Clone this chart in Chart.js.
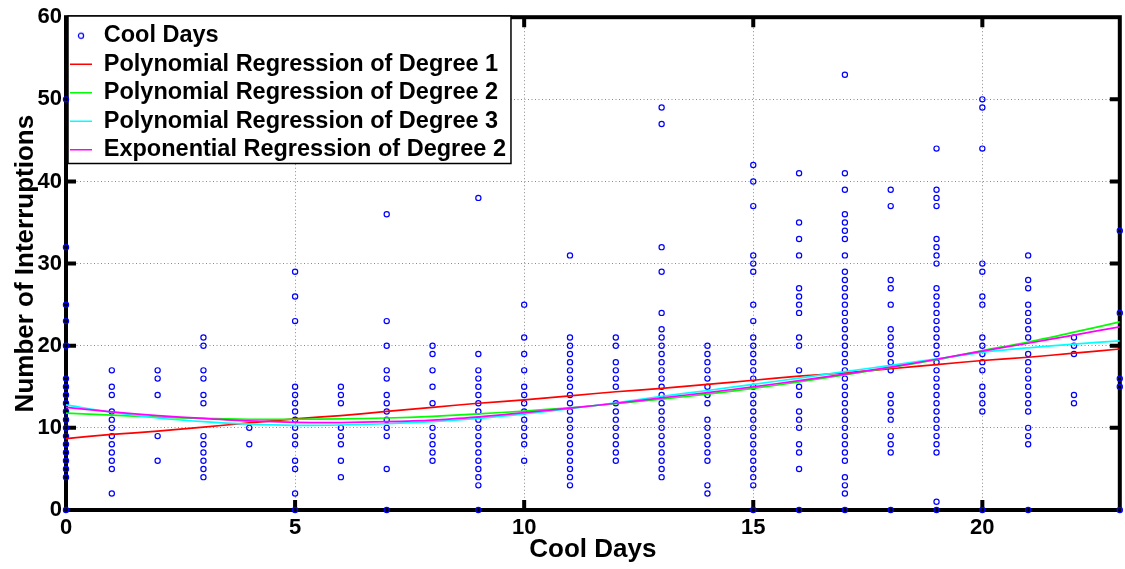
<!DOCTYPE html>
<html><head><meta charset="utf-8">
<script src="https://cdn.jsdelivr.net/npm/chart.js@4.4.1/dist/chart.umd.min.js"></script>
<style>html,body{margin:0;padding:0;background:#fff}#wrap{width:1125px;height:569px;position:relative}</style>
</head><body><div id="wrap"><canvas id="c"></canvas></div>
<script>
const days = [0,1,2,3,4,5,6,7,8,9,10,11,12,13,14,15,16,17,18,19,20,21,22,23];
const interruptionsByDay = [
  [0,4,5,6,7,8,9,10,11,12,13,14,15,16,20,23,25,32,50],
  [2,5,6,7,8,9,10,11,12,14,15,17],
  [6,9,14,16,17],
  [4,5,6,7,8,9,13,14,16,17,20,21],
  [8,10],
  [0,2,5,6,8,9,10,11,12,13,14,15,23,26,29],
  [4,6,8,9,10,13,14,15],
  [0,5,9,10,11,12,13,14,16,17,20,23,36],
  [6,7,8,9,10,13,15,17,19,20],
  [0,3,4,5,6,7,8,9,10,11,12,13,14,15,16,17,19,38],
  [6,8,9,10,11,12,13,14,15,17,19,21,25],
  [3,4,5,6,7,8,9,10,11,12,13,14,15,16,17,18,19,20,21,31],
  [6,7,8,9,10,11,12,13,15,16,17,18,20,21],
  [4,5,6,7,8,9,10,11,12,13,14,15,16,17,18,19,20,21,22,24,29,32,47,49],
  [2,3,6,7,8,9,10,11,13,14,15,16,17,18,19,20],
  [0,3,4,5,6,7,8,9,10,11,12,13,14,15,16,17,18,19,20,21,23,25,29,30,31,37,40,42],
  [0,5,7,8,10,11,12,14,15,17,20,21,24,25,26,27,31,33,35,41],
  [0,2,3,4,6,7,8,9,10,11,12,13,14,15,16,17,18,19,20,21,22,23,24,25,26,27,28,29,31,33,34,35,36,39,41,53],
  [0,7,8,9,11,12,13,14,17,18,19,20,21,22,25,27,28,37,39],
  [0,1,7,8,9,10,11,12,13,14,15,16,17,18,19,20,21,22,23,24,25,26,27,30,31,32,33,37,38,39,44],
  [0,12,13,14,15,17,18,19,20,21,25,26,29,30,44,49,50],
  [0,8,9,10,12,13,14,15,16,17,18,19,21,22,23,24,25,27,28,31],
  [13,14,19,20,21],
  [0,15,16,24,34]
];
const polyDegree1 = [8.7,9.2,9.6,10.1,10.6,11.1,11.5,12.0,12.5,13.0,13.4,13.9,14.4,14.8,15.3,15.8,16.3,16.7,17.2,17.7,18.2,18.6,19.1,19.6];
const polyDegree2 = [11.8,11.55,11.3,11.15,11.05,11.05,11.1,11.2,11.4,11.7,12.05,12.45,12.95,13.5,14.1,14.8,15.6,16.45,17.35,18.3,19.4,20.45,21.65,22.9];
const polyDegree3 = [12.8,11.9,11.2,10.75,10.45,10.3,10.35,10.5,10.75,11.15,11.7,12.35,13.05,13.85,14.55,15.3,16.05,16.85,17.6,18.4,19.2,19.75,20.2,20.6];
const expDegree2 = [12.5,11.95,11.5,11.15,10.85,10.68,10.65,10.75,10.95,11.35,11.85,12.4,13.0,13.65,14.3,15.0,15.75,16.55,17.4,18.35,19.35,20.3,21.3,22.3];
const xTickValues = [0,5,10,15,20];
const yTickValues = [0,10,20,30,40,50,60];
const seriesLabels = ['Cool Days','Polynomial Regression of Degree 1','Polynomial Regression of Degree 2','Polynomial Regression of Degree 3','Exponential Regression of Degree 2'];
const xTitle = 'Cool Days';
const yTitle = 'Number of Interruptions';

const FONT = "'Liberation Sans', Arial, Helvetica, sans-serif";

const scatterPoints = [];
interruptionsByDay.forEach((vals, i) => vals.forEach(v => scatterPoints.push({x: days[i], y: v})));
const toPts = arr => arr.map((v, i) => ({x: days[i], y: v}));

// small circle marker for the legend
const marker = document.createElement('canvas');
marker.width = 10; marker.height = 10;
(function(){ const m = marker.getContext('2d'); m.strokeStyle = '#0000ff'; m.lineWidth = 1.2; m.beginPath(); m.arc(5,5,2.6,0,Math.PI*2); m.stroke(); })();

function drawFrame(chart) {
  const ctx = chart.ctx, a = chart.chartArea, xs = chart.scales.x, ys = chart.scales.y;
  ctx.save();
  ctx.strokeStyle = '#000';
  ctx.lineWidth = 4;
  ctx.lineJoin = 'miter';
  ctx.strokeRect(a.left, a.top, a.right - a.left, a.bottom - a.top);
  const L = 10;
  ctx.beginPath();
  xTickValues.forEach(v => {
    const p = xs.getPixelForValue(v);
    if (p <= a.left + 2 || p >= a.right - 2) return;
    ctx.moveTo(p, a.bottom); ctx.lineTo(p, a.bottom - L);
    ctx.moveTo(p, a.top); ctx.lineTo(p, a.top + L);
  });
  yTickValues.forEach(v => {
    const p = ys.getPixelForValue(v);
    if (p <= a.top + 2 || p >= a.bottom - 2) return;
    ctx.moveTo(a.left, p); ctx.lineTo(a.left + L, p);
    ctx.moveTo(a.right, p); ctx.lineTo(a.right - L, p);
  });
  ctx.stroke();
  ctx.restore();
}

const framePlugin = {
  id: 'frameAndLegendBox',
  afterInit(chart) {
    const lg = chart.legend;
    const orig = lg.draw.bind(lg);
    lg.draw = function(area) {
      drawFrame(chart);
      const hbs = lg.legendHitBoxes || [];
      if (hbs.length) {
        const ctx = chart.ctx;
        const left = chart.chartArea.left + 2;
        const top = hbs[0].top - 8;
        let right = 0;
        hbs.forEach(h => { right = Math.max(right, h.left + h.width); });
        right += 5;
        const last = hbs[hbs.length - 1];
        const bottom = last.top + last.height + 2;
        ctx.save();
        ctx.fillStyle = '#fff';
        ctx.fillRect(left, top, right - left, bottom - top);
        ctx.strokeStyle = '#000';
        ctx.lineWidth = 1.5;
        ctx.strokeRect(left, top, right - left, bottom - top);
        ctx.restore();
      }
      orig(area);
    };
  },
  afterLayout(chart) {
    const lg = chart.legend;
    const h = lg.height;
    lg.left = chart.chartArea.left - 1;
    lg.top = 19;
    lg.bottom = lg.top + h;
  }
};

new Chart(document.getElementById('c'), {
  type: 'scatter',
  data: {
    datasets: [
      { label: seriesLabels[0], data: scatterPoints, showLine: false, clip: false, pointStyle: 'circle', pointRadius: 2.6, pointBorderWidth: 1.2, borderColor: '#0000ff', backgroundColor: 'rgba(0,0,0,0)', order: 10 },
      { label: seriesLabels[1], data: toPts(polyDegree1), showLine: true, pointRadius: 0, borderColor: '#ff0000', backgroundColor: '#ff0000', borderWidth: 1.7, tension: 0.3, order: 4 },
      { label: seriesLabels[2], data: toPts(polyDegree2), showLine: true, pointRadius: 0, borderColor: '#00ff00', backgroundColor: '#00ff00', borderWidth: 1.7, tension: 0.3, order: 3 },
      { label: seriesLabels[3], data: toPts(polyDegree3), showLine: true, pointRadius: 0, borderColor: '#00ffff', backgroundColor: '#00ffff', borderWidth: 1.7, tension: 0.3, order: 2 },
      { label: seriesLabels[4], data: toPts(expDegree2), showLine: true, pointRadius: 0, borderColor: '#ff00ff', backgroundColor: '#ff00ff', borderWidth: 1.7, tension: 0.3, order: 1 }
    ]
  },
  options: {
    responsive: true,
    maintainAspectRatio: false,
    animation: false,
    events: [],
    layout: { padding: { left: 0, top: 12, right: 3, bottom: 0 } },
    scales: {
      x: {
        type: 'linear', min: 0, max: 23,
        afterBuildTicks: s => { s.ticks = xTickValues.map(v => ({ value: v })); },
        afterFit: s => { s.height = 59; },
        grid: { color: '#8a8a8a', lineWidth: 1, drawTicks: false, z: -1 },
        border: { display: false, dash: [1, 2.5] },
        ticks: { color: '#000', font: { family: FONT, size: 22, weight: 'bold' }, padding: 5, maxRotation: 0, autoSkip: false },
        title: { display: true, text: xTitle, color: '#000', font: { family: FONT, size: 26, weight: 'bold' }, padding: { top: 0, bottom: 4 } }
      },
      y: {
        type: 'linear', min: 0, max: 60,
        afterBuildTicks: s => { s.ticks = yTickValues.map(v => ({ value: v })); },
        afterFit: s => { s.width = 66; },
        grid: { color: '#8a8a8a', lineWidth: 1, drawTicks: false, z: -1 },
        border: { display: false, dash: [1, 2.5] },
        ticks: { color: '#000', font: { family: FONT, size: 22, weight: 'bold' }, padding: 4, autoSkip: false },
        title: { display: true, text: yTitle, color: '#000', font: { family: FONT, size: 26, weight: 'bold' }, padding: { top: 10, bottom: 0 } }
      }
    },
    plugins: {
      tooltip: { enabled: false },
      legend: {
        position: 'chartArea',
        align: 'start',
        labels: {
          color: '#000',
          font: { family: FONT, size: 23.5, weight: 'bold' },
          usePointStyle: true,
          pointStyleWidth: 22,
          boxHeight: 23.5,
          padding: 5,
          sort: (a, b) => a.datasetIndex - b.datasetIndex,
          generateLabels: chart => {
            const items = Chart.defaults.plugins.legend.labels.generateLabels(chart);
            return items.map(it => {
              if (it.datasetIndex === 0) { it.pointStyle = marker; }
              else { it.pointStyle = 'line'; it.lineWidth = 1.7; }
              return it;
            });
          }
        }
      }
    }
  },
  plugins: [framePlugin]
});
</script>
</body></html>
